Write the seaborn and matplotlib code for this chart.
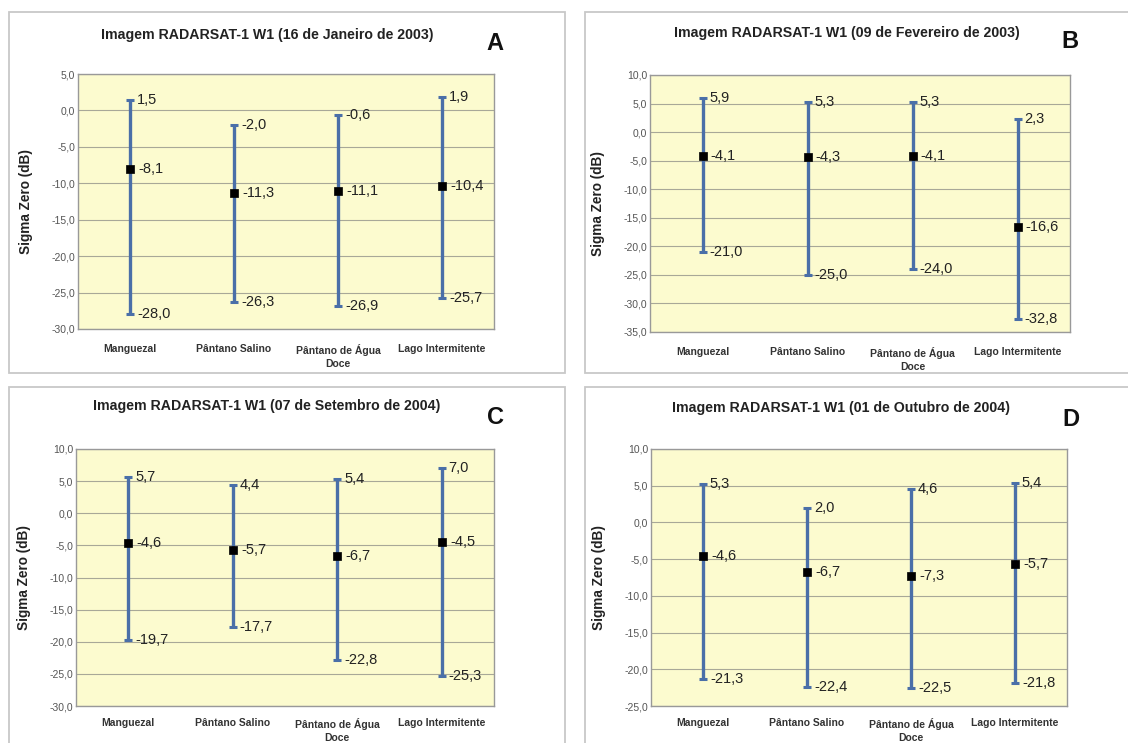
#!/usr/bin/env python3
"""Sigma zero (dB) ranges per wetland class, RADARSAT-1 W1 images."""

import matplotlib
matplotlib.use('Agg')
import matplotlib.pyplot as plt
from matplotlib.patches import Rectangle
import seaborn as sns
import pandas as pd

W, H = 1128, 743

categorias = ['Manguezal', 'Pântano Salino', 'Pântano de Água\nDoce', 'Lago Intermitente']

titulos = ['Imagem RADARSAT-1 W1 (16 de Janeiro de 2003)',
           'Imagem RADARSAT-1 W1 (09 de Fevereiro de 2003)',
           'Imagem RADARSAT-1 W1 (07 de Setembro de 2004)',
           'Imagem RADARSAT-1 W1 (01 de Outubro de 2004)']
letras = ['A', 'B', 'C', 'D']

max_a = [1.5, -2.0, -0.6, 1.9]
med_a = [-8.1, -11.3, -11.1, -10.4]
min_a = [-28.0, -26.3, -26.9, -25.7]

max_b = [5.9, 5.3, 5.3, 2.3]
med_b = [-4.1, -4.3, -4.1, -16.6]
min_b = [-21.0, -25.0, -24.0, -32.8]

max_c = [5.7, 4.4, 5.4, 7.0]
med_c = [-4.6, -5.7, -6.7, -4.5]
min_c = [-19.7, -17.7, -22.8, -25.3]

max_d = [5.3, 2.0, 4.6, 5.4]
med_d = [-4.6, -6.7, -7.3, -5.7]
min_d = [-21.3, -22.4, -22.5, -21.8]

ylims = [(-30, 5), (-35, 10), (-30, 10), (-25, 10)]

# layout in pixels (figure coords computed below)
caixas = [(9, 12, 556, 361), (585, 12, 560, 361), (9, 387, 556, 370), (585, 387, 560, 370)]
eixos = [(78, 74, 416, 255), (650, 75, 420, 257), (76, 449, 418, 257), (651, 449, 416, 257)]
pos_titulo = [(267, 35), (847, 33), (267, 406), (841, 408)]
pos_letra = [(495, 43), (1070, 41), (495, 417), (1071, 419)]
pad_cat = [11, 11, 9, 9]

LINHA = '#4A6FA8'
FUNDO = '#FCFBCF'

sns.set_style('white')
plt.rcParams['font.family'] = ['Liberation Sans', 'DejaVu Sans']


def fmt(v):
    return f'{v:.1f}'.replace('.', ',')


fig = plt.figure(figsize=(W / 100, H / 100), dpi=100)
fig.patch.set_facecolor('white')

dados = [(max_a, med_a, min_a), (max_b, med_b, min_b),
         (max_c, med_c, min_c), (max_d, med_d, min_d)]

for i, (mx, md, mn) in enumerate(dados):
    bx, by, bw, bh = caixas[i]
    fig.patches.append(Rectangle((bx / W, 1 - (by + bh) / H), bw / W, bh / H,
                                 transform=fig.transFigure, facecolor='white',
                                 edgecolor='#C8C8C8', lw=1.3, zorder=-1))

    ex, ey, ew, eh = eixos[i]
    ax = fig.add_axes([ex / W, 1 - (ey + eh) / H, ew / W, eh / H])
    ax.set_facecolor(FUNDO)

    df = pd.DataFrame({'categoria': categorias, 'max': mx, 'media': md, 'min': mn})

    ax.vlines(df['categoria'], df['min'], df['max'], color=LINHA, lw=2.4, zorder=2)
    for col in ['max', 'min']:
        sns.scatterplot(data=df, x='categoria', y=col, marker='_', s=36,
                        color=LINHA, linewidth=2.2, ax=ax, zorder=3)
    sns.scatterplot(data=df, x='categoria', y='media', marker='s', s=40,
                    color='black', edgecolor='black', ax=ax, zorder=4)

    for j in range(len(categorias)):
        for col, dx in [('max', 5), ('min', 5), ('media', 6)]:
            v = df[col].iloc[j]
            ax.annotate(fmt(v), (j, v), xytext=(dx, 0), textcoords='offset points',
                        va='center', ha='left', fontsize=10.5, color='#222222', zorder=5)

    lo, hi = ylims[i]
    ax.set_ylim(lo, hi)
    ax.set_xlim(-0.5, 3.5)
    yt = list(range(lo, hi + 1, 5))
    ax.set_yticks(yt)
    ax.set_yticklabels([fmt(v) for v in yt], fontsize=7.5, color='#555555')
    ax.grid(axis='y', color='#A8A898', lw=0.8)
    ax.set_axisbelow(True)
    ax.set_xticks(range(len(categorias)))
    ax.set_xticklabels(categorias, fontsize=7.5, fontweight='bold', color='#333333',
                       linespacing=1.3)
    ax.set_xticks([-0.5, 0.5, 1.5, 2.5, 3.5], minor=True)
    ax.tick_params(axis='x', which='major', length=0, pad=pad_cat[i])
    ax.tick_params(axis='x', which='minor', length=3, color='#999999', direction='in')
    ax.tick_params(axis='y', length=0, pad=2)
    for s in ax.spines.values():
        s.set_color('#999999')
        s.set_linewidth(1.0)

    ax.set_xlabel('')
    ax.set_ylabel('Sigma Zero (dB)', fontsize=9.8, fontweight='bold', color='#222222')
    ax.yaxis.set_label_coords(-0.108, 0.5)

    tx, ty = pos_titulo[i]
    fig.text(tx / W, 1 - ty / H, titulos[i], ha='center', va='center',
             fontsize=10.2, fontweight='bold', color='#222222')
    lx, ly = pos_letra[i]
    fig.text(lx / W, 1 - ly / H, letras[i], ha='center', va='center',
             fontsize=17, fontweight='bold', color='#111111')

plt.savefig('out.png', dpi=100, facecolor='white')
print('Saved: out.png')
